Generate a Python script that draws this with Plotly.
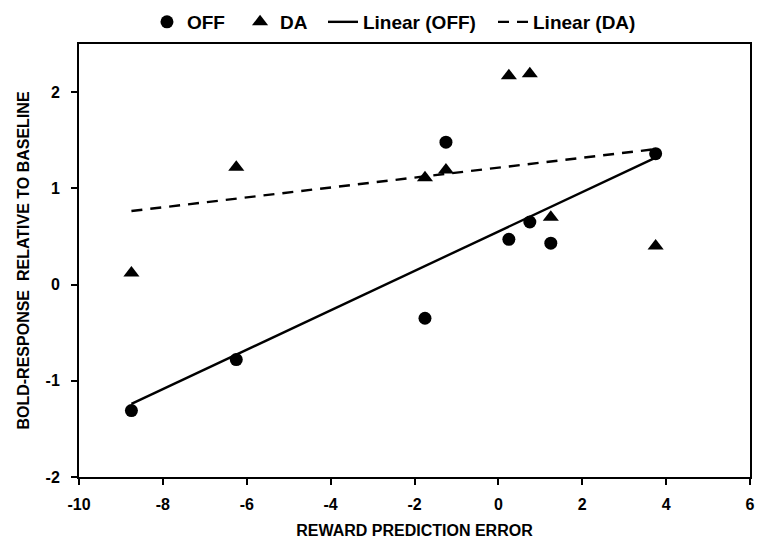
import numpy as np
import plotly.graph_objects as go

# Data
x_vals = [-8.75, -6.25, -1.75, -1.25, 0.25, 0.75, 1.25, 3.75]
off_y = [-1.31, -0.78, -0.35, 1.48, 0.47, 0.65, 0.43, 1.36]
da_y = [0.12, 1.22, 1.11, 1.19, 2.17, 2.19, 0.70, 0.40]

x_ticks = [-10, -8, -6, -4, -2, 0, 2, 4, 6]
x_tick_text = ["-10", "-8", "-6", "-4", "-2", "0", "2", "4", "6"]
y_ticks = [-2, -1, 0, 1, 2]
y_tick_text = ["-2", "-1", "0", "1", "2"]

FONT = "Liberation Sans"


def linfit(x, y):
    slope, intercept = np.polyfit(np.array(x), np.array(y), 1)
    xs = np.array([min(x), max(x)])
    return xs, slope * xs + intercept


fig = go.Figure()
fig.add_trace(go.Scatter(
    x=x_vals, y=off_y, mode="markers", name="<b>OFF</b>", legend="legend",
    marker=dict(symbol="circle", size=13, color="black"),
))
fig.add_trace(go.Scatter(
    x=x_vals, y=da_y, mode="markers", name="<b>DA</b>", legend="legend2",
    marker=dict(symbol="triangle-up", size=14, color="black"),
))
xo, yo = linfit(x_vals, off_y)
fig.add_trace(go.Scatter(
    x=xo, y=yo, mode="lines", name="<b>Linear (OFF)</b>", legend="legend3",
    line=dict(color="black", width=2.4),
))
xd, yd = linfit(x_vals, da_y)
fig.add_trace(go.Scatter(
    x=xd, y=yd, mode="lines", name="<b>Linear (DA)</b>", legend="legend4",
    line=dict(color="black", width=2.4, dash="11px,8px"),
))

axis_common = dict(
    showgrid=False, zeroline=False, showline=True, linecolor="black",
    linewidth=2, mirror=True, ticks="outside", ticklen=6, tickwidth=2,
    tickcolor="black", automargin=False, ticklabeloverflow="allow",
    tickfont=dict(family=FONT, size=16, color="black"),
)


def leg(xpos):
    return dict(
        orientation="h", x=xpos, xanchor="left", y=1.0947, yanchor="top",
        font=dict(family=FONT, size=19, color="black"),
        itemwidth=30, bgcolor="rgba(0,0,0,0)", borderwidth=0,
    )


# The page body adds an 8px margin, so the figure is sized to fit inside it.
fig.update_layout(
    width=749, height=531,
    margin=dict(l=71, r=7, t=36, b=62, autoexpand=False),
    paper_bgcolor="white", plot_bgcolor="white",
    font=dict(family=FONT, color="black"),
    showlegend=True,
    legend=leg(0.1013),
    legend2=leg(0.240),
    legend3=leg(0.3636),
    legend4=leg(0.617),
    xaxis=dict(
        range=[-10, 6], tickvals=x_ticks,
        ticktext=["<b>%s</b>" % t for t in x_tick_text],
        ticklabelstandoff=6,
        title=dict(text="<b>REWARD PREDICTION ERROR</b>",
                   font=dict(family=FONT, size=16, color="black"), standoff=16),
        **axis_common,
    ),
    yaxis=dict(
        range=[-2, 2.5], tickvals=y_ticks,
        ticktext=["<b>%s</b>" % t for t in y_tick_text],
        ticklabelstandoff=8,
        title=dict(text="<b>BOLD-RESPONSE  RELATIVE TO BASELINE</b>",
                   font=dict(family=FONT, size=16, color="black"), standoff=12),
        **axis_common,
    ),
)

fig.write_html("out.html")
